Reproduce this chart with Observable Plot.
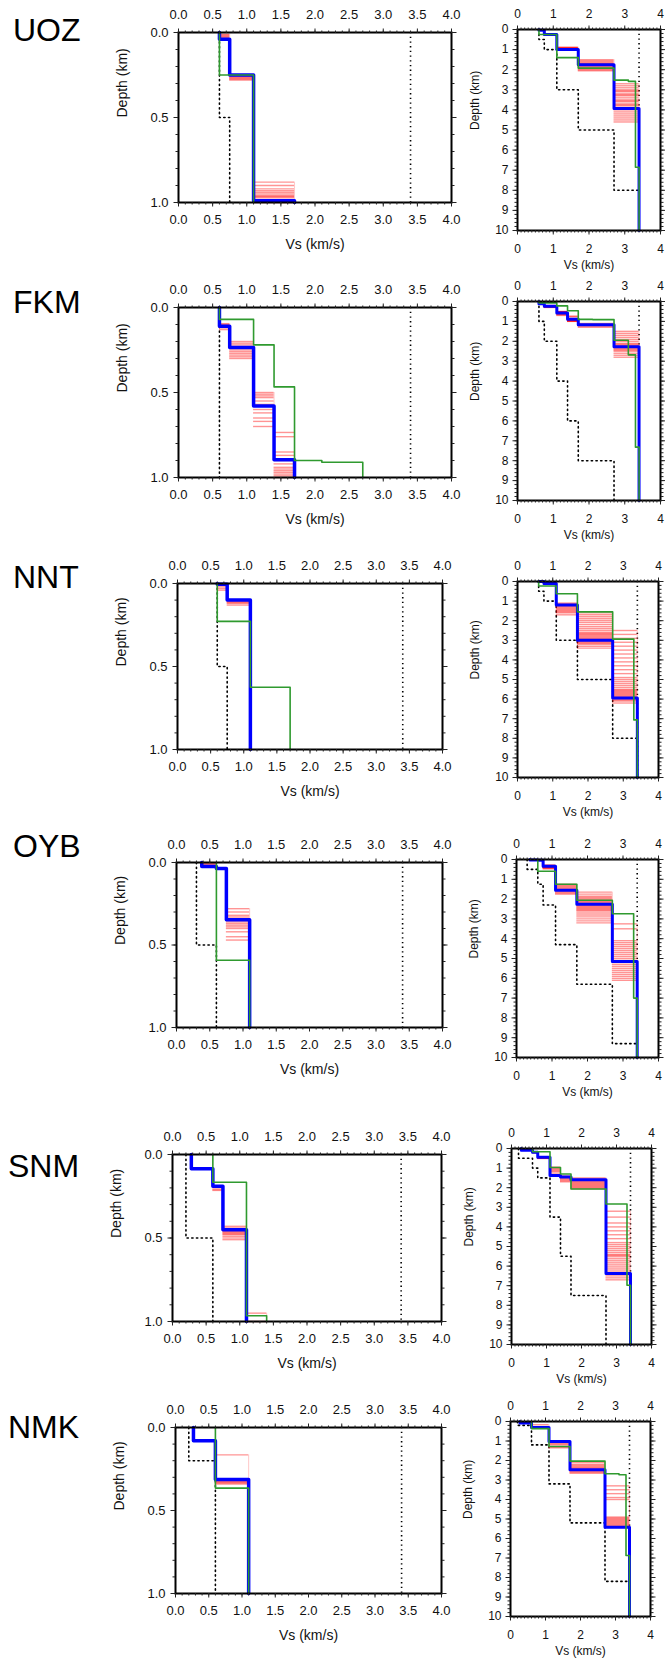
<!DOCTYPE html>
<html><head><meta charset="utf-8">
<script src="https://cdn.jsdelivr.net/npm/d3@7"></script>
<script src="https://cdn.jsdelivr.net/npm/@observablehq/plot@0.6"></script>
<style>
html,body{margin:0;padding:0;background:#fff;}
#page{position:relative;width:665px;height:1662px;overflow:hidden;font-family:"Liberation Sans",Arial,Helvetica,sans-serif;}
.title{position:absolute;font-size:32px;line-height:32px;color:#000;white-space:nowrap;}
</style></head><body><div id="page"></div>
<script>
// ---------------- DATA ----------------
const stationNames = ["UOZ","FKM","NNT","OYB","SNM","NMK"];
const upperBoundVs = 3.4;           // vertical dotted line (km/s)
const leftXTicks  = [0,0.5,1,1.5,2,2.5,3,3.5,4];
const rightXTicks = [0,1,2,3,4];
const leftYTicks  = [0,0.5,1];
const rightYTicks = [0,1,2,3,4,5,6,7,8,9,10];

// Each profile: layer velocities (km/s) and depths of layer bottoms (km)
// Red ensemble: [Vs above, Vs below, [interface depths]]
const UOZ_blueVs  = [0.6,0.75,1.1,1.7,2.7,3.4];
const UOZ_blueZ   = [0.04,0.25,0.99,1.75,3.93];
const UOZ_greenVs = [0.6,1.1,1.7,2.7,3.1,3.3,3.4];
const UOZ_greenZ  = [0.25,1.4,1.92,2.52,2.58,6.85];
const UOZ_dotVs   = [0.6,0.75,1.1,1.7,2.7,3.4];
const UOZ_dotZ    = [0.5,1.0,3.0,5.0,8.0];
const UOZ_red = [
  [0.6,0.75,[0.01,0.015,0.02,0.025,0.03]],
  [0.75,1.1,[0.25,0.255,0.26,0.265,0.27,0.275,0.28]],
  [1.1,1.7,[0.88,0.9,0.92,0.93,0.94,0.95,0.96,0.965,0.97,0.98,0.99,1.0]],
  [1.7,2.7,[1.5,1.55,1.6,1.65,1.7,1.72,1.75,1.78,1.8,1.85,1.9,1.95,2.0,2.05]],
  [2.7,3.4,[2.7,2.8,2.9,3.0,3.05,3.1,3.2,3.25,3.3,3.4,3.5,3.55,3.6,3.7,3.75,3.8,3.9,3.95,4.0,4.1,4.2,4.3,4.4,4.5,4.6]]
];

const FKM_blueVs  = [0.6,0.75,1.1,1.4,1.7,2.7,3.4];
const FKM_blueZ   = [0.11,0.235,0.58,0.895,1.17,2.27];
const FKM_greenVs = [0.6,1.1,1.4,1.7,2.1,2.7,3.1,3.3,3.4];
const FKM_greenZ  = [0.07,0.22,0.467,0.90,0.91,1.95,2.68,7.32];
const FKM_dotVs   = [0.6,0.75,1.1,1.4,1.7,2.7];
const FKM_dotZ    = [1,2,4,6,8];
const FKM_red = [
  [0.6,0.75,[0.095,0.1,0.105,0.11,0.115,0.12,0.13]],
  [0.75,1.1,[0.2,0.21,0.22,0.23,0.24,0.25,0.26,0.27,0.28,0.29,0.3]],
  [1.1,1.4,[0.5,0.51,0.52,0.53,0.55,0.57,0.6,0.62,0.65,0.67,0.7]],
  [1.4,1.7,[0.735,0.76,0.85,0.87,0.9,0.92,0.94,0.95,0.96,0.97,0.98,0.99,1.0]],
  [1.7,2.7,[1.1,1.15,1.2,1.25,1.3]],
  [2.7,3.4,[1.5,1.6,1.7,1.8,1.9,2.0,2.1,2.15,2.2,2.25,2.3,2.35,2.4,2.45,2.5,2.6,2.7,2.8]]
];

const NNT_blueVs  = [0.6,0.75,1.1,1.7,2.7,3.4];
const NNT_blueZ   = [0.005,0.10,1.2,3.0,5.95];
const NNT_greenVs = [0.6,1.1,1.7,2.7,3.3,3.4];
const NNT_greenZ  = [0.228,0.625,1.55,2.94,7.06];
const NNT_dotVs   = [0.6,0.75,1.1,1.7,2.7,3.4];
const NNT_dotZ    = [0.5,1.0,3.0,5.0,8.0];
const NNT_red = [
  [0.6,0.75,[0.005,0.01,0.02,0.03,0.04]],
  [0.75,1.1,[0.1,0.105,0.11,0.115,0.12,0.13]],
  [1.1,1.7,[1.1,1.15,1.2,1.25,1.3,1.35,1.4,1.45,1.5,1.55,1.6,1.7]],
  [1.7,2.7,[1.6,1.7,1.8,1.9,2.0,2.1,2.2,2.3,2.4,2.5,2.6,2.65,2.7,2.75,2.8,2.85,2.9,2.95,3.0,3.05,3.1,3.15,3.2,3.3,3.4]],
  [2.7,3.4,[2.5,2.7,2.9,3.1,3.3,3.5,3.7,3.9,4.1,4.3,4.5,4.7,4.9,5.0,5.1,5.2,5.3,5.4,5.5,5.55,5.6,5.65,5.7,5.75,5.8,5.85,5.9,5.95,6.0,6.05,6.1,6.2]]
];

const OYB_blueVs  = [0.38,0.6,0.75,1.1,1.7,2.7,3.4];
const OYB_blueZ   = [0.024,0.036,0.347,1.55,2.26,5.15];
const OYB_greenVs = [0.6,1.1,1.7,2.7,3.3,3.4];
const OYB_greenZ  = [0.592,1.25,2.06,2.74,7.0];
const OYB_dotVs   = [0.3,0.6,0.75,1.1,1.7,2.7,3.4];
const OYB_dotZ    = [0.5,1.25,2.3,4.3,6.3,9.3];
const OYB_red = [
  [0.38,0.6,[0.005,0.01,0.015]],
  [0.75,1.1,[0.28,0.3,0.32,0.33,0.34,0.35,0.36,0.37,0.38,0.39,0.4,0.42,0.45,0.47]],
  [1.1,1.7,[1.25,1.3,1.35,1.4,1.45,1.5,1.55,1.6,1.65,1.7,1.75]],
  [1.7,2.7,[1.65,1.75,1.85,1.9,1.95,2.0,2.05,2.1,2.15,2.2,2.3,2.35,2.4,2.45,2.5,2.55,2.6,2.7,2.8,2.9,3.0,3.1,3.2]],
  [2.7,3.4,[3.25,3.5,4.1,4.2,4.3,4.4,4.5,4.6,4.7,4.8,4.9,5.0,5.1,5.2,5.3,5.4,5.5,5.6,5.7,5.8,5.9,6.0,6.1]]
];

const SNM_blueVs  = [0.28,0.6,0.75,1.1,1.4,1.7,2.7,3.4];
const SNM_blueZ   = [0.086,0.19,0.45,1.38,1.45,1.6,6.38];
const SNM_greenVs = [0.6,1.1,1.4,1.7,2.7,3.3,3.4];
const SNM_greenZ  = [0.166,0.966,1.3,2.07,2.83,6.98];
const SNM_dotVs   = [0.2,0.6,0.75,1.1,1.4,1.7,2.7];
const SNM_dotZ    = [0.5,1.0,1.5,3.5,5.5,7.5];
const SNM_red = [
  [0.6,0.75,[0.19,0.2,0.21,0.215]],
  [0.75,1.1,[0.43,0.44,0.45,0.46,0.465,0.47,0.475,0.48,0.49,0.5,0.51]],
  [1.1,1.4,[0.95,1.0,1.05,1.1,1.15,1.2,1.3,1.4]],
  [1.4,1.7,[1.4,1.45,1.5,1.55,1.6,1.65,1.7]],
  [1.7,2.7,[1.5,1.55,1.6,1.65,1.7,1.75,1.8,1.85,1.9,1.95,2.0,2.05]],
  [2.7,3.4,[3.2,3.5,3.8,4.0,4.2,4.4,4.6,4.8,4.9,5.0,5.1,5.2,5.3,5.4,5.45,5.5,5.6,5.7,5.8,5.9,6.0,6.1,6.2,6.3,6.4,6.5,6.6,6.7]]
];

const NMK_blueVs  = [0.27,0.6,1.1,1.7,2.7,3.4];
const NMK_blueZ   = [0.08,0.313,1.03,2.48,5.42];
const NMK_greenVs = [0.6,1.1,1.7,2.7,3.1,3.3,3.4];
const NMK_greenZ  = [0.365,1.28,2.03,2.68,2.73,6.87];
const NMK_dotVs   = [0.2,0.6,1.1,1.7,2.7,3.4];
const NMK_dotZ    = [0.2,1.2,3.2,5.2,8.2];
const NMK_red = [
  [0.6,1.1,[0.165,0.32,0.325,0.33,0.335,0.34]],
  [1.1,1.7,[1.05,1.1,1.15,1.2,1.3,1.35]],
  [1.7,2.7,[2.1,2.2,2.25,2.3,2.35,2.4,2.45,2.5,2.55,2.6,2.65]],
  [2.7,3.4,[3.3,3.5,3.7,3.9,4.0,4.9,4.95,5.0,5.05,5.1,5.15,5.2,5.25,5.3,5.35,5.4]]
];

// ---------------- LAYOUT ----------------
const stations = [
  {name:"UOZ", blue:[UOZ_blueVs,UOZ_blueZ], green:[UOZ_greenVs,UOZ_greenZ], dot:[UOZ_dotVs,UOZ_dotZ], red:UOZ_red},
  {name:"FKM", blue:[FKM_blueVs,FKM_blueZ], green:[FKM_greenVs,FKM_greenZ], dot:[FKM_dotVs,FKM_dotZ], red:FKM_red},
  {name:"NNT", blue:[NNT_blueVs,NNT_blueZ], green:[NNT_greenVs,NNT_greenZ], dot:[NNT_dotVs,NNT_dotZ], red:NNT_red},
  {name:"OYB", blue:[OYB_blueVs,OYB_blueZ], green:[OYB_greenVs,OYB_greenZ], dot:[OYB_dotVs,OYB_dotZ], red:OYB_red},
  {name:"SNM", blue:[SNM_blueVs,SNM_blueZ], green:[SNM_greenVs,SNM_greenZ], dot:[SNM_dotVs,SNM_dotZ], red:SNM_red},
  {name:"NMK", blue:[NMK_blueVs,NMK_blueZ], green:[NMK_greenVs,NMK_greenZ], dot:[NMK_dotVs,NMK_dotZ], red:NMK_red},
];
// frame boxes [x0,y0,x1,y1] in page pixels
const layoutRows = [
  {L:[178,32,451,202],   R:[517,29,660,230]},
  {L:[178,307,451,477],  R:[517,301,660,500]},
  {L:[177,583,442,749],  R:[517,581,658,777]},
  {L:[176,862,442,1027], R:[516,859,658,1057]},
  {L:[172,1154,441,1321],R:[511,1148,651,1344]},
  {L:[175,1427,441,1593],R:[510,1421,650,1616]},
];
const titlePos = [[13,41],[13,313],[13,588],[13,857],[8,1177],[8,1438]];

const FONT = '"Liberation Sans", Arial, Helvetica, sans-serif';
const page = document.getElementById("page");

function stepPath(vs, zs, zmax) {
  const pts = [];
  let top = 0;
  for (let i = 0; i < vs.length; i++) {
    const bot = i < zs.length ? Math.min(zs[i], zmax) : zmax;
    pts.push({v: vs[i], z: top}, {v: vs[i], z: bot});
    if (bot >= zmax) break;
    top = bot;
  }
  return pts;
}

function panel(st, box, kind) {
  const [x0,y0,x1,y1] = box;
  const isL = kind === "L";
  const zmax = isL ? 1 : 10;
  const m = isL ? {l:75,r:14,t:32,b:62} : {l:62,r:12,t:30,b:52};
  const fs = isL ? 13 : 12;
  const lfs = isL ? 14 : 12;
  const xMajor = isL ? leftXTicks : rightXTicks;
  const yMajor = isL ? leftYTicks : rightYTicks;
  const xMinor = d3.range(0, 41).map(i => i / 10);
  const yMinor = isL ? d3.range(0, 11).map(i => i / 10) : d3.range(0, 51).map(i => i / 5);
  const fmtX = isL ? d3.format(".1f") : d3.format("d");
  const fmtY = isL ? d3.format(".1f") : d3.format("d");

  const redRows = [], redEdges = [];
  for (const [v1, v2, ds] of st.red) {
    const inside = ds.filter(d => d <= zmax + 1e-9);
    for (const d of inside) redRows.push({z: d, v1, v2});
    if (inside.length > 1) redEdges.push({v: v2, z1: d3.min(inside), z2: d3.max(inside)});
  }
  const tickStroke = "#222";
  const marks = [
    Plot.line(stepPath(st.dot[0], st.dot[1], zmax), {x:"v", y:"z", stroke:"black", strokeWidth:1.6, strokeDasharray:"1.3,3.4"}),
    Plot.ruleX([upperBoundVs], {y1:0, y2:zmax, stroke:"black", strokeWidth:1.6, strokeDasharray:"1.3,3.4"}),
    Plot.ruleY(redRows, {y:"z", x1:"v1", x2:"v2", stroke:"#ff0000", strokeOpacity:0.42, strokeWidth:1.4}),
    Plot.ruleX(redEdges, {x:"v", y1:"z1", y2:"z2", stroke:"#ff0000", strokeOpacity:0.22, strokeWidth:1}),
    Plot.line(stepPath(st.blue[0], st.blue[1], zmax), {x:"v", y:"z", stroke:"#0000ff", strokeWidth: isL ? 3.5 : 3}),
    Plot.line(stepPath(st.green[0], st.green[1], zmax), {x:"v", y:"z", stroke:"#2f9a2f", strokeWidth:1.6}),
    Plot.frame({stroke:"black", strokeWidth:2}),
    Plot.axisX(xMinor, {anchor:"top", tickSize:2.5, tickFormat:()=>"", label:null, stroke:tickStroke}),
    Plot.axisX(xMinor, {anchor:"bottom", tickSize:2.5, tickFormat:()=>"", label:null, stroke:tickStroke}),
    Plot.axisX(xMajor, {anchor:"top", tickSize:4.5, tickPadding: isL ? 9 : 7.5, tickFormat:fmtX, label:null, stroke:tickStroke, fontSize:fs}),
    Plot.axisX(xMajor, {anchor:"bottom", tickSize:4.5, tickPadding: isL ? 7.5 : 9, tickFormat:fmtX, label:null, stroke:tickStroke, fontSize:fs}),
    Plot.axisY(yMinor, {anchor:"left", tickSize:2.5, tickFormat:()=>"", label:null, stroke:tickStroke}),
    Plot.axisY(yMinor, {anchor:"right", tickSize:2.5, tickFormat:()=>"", label:null, stroke:tickStroke}),
    Plot.axisY(yMajor, {anchor:"left", tickSize:4.5, tickPadding: isL ? 5.5 : 4.5, tickFormat:fmtY, label:null, stroke:tickStroke, fontSize:fs}),
    Plot.axisY(yMajor, {anchor:"right", tickSize:4.5, tickFormat:()=>"", label:null, stroke:tickStroke}),
    Plot.text(["Vs (km/s)"], {text: d => d, frameAnchor:"bottom", dy: isL ? 46 : 38, fontSize:lfs, fill:"#111"}),
    Plot.text(["Depth (km)"], {text: d => d, frameAnchor:"left", dx: isL ? -56 : -42, rotate:-90, fontSize:lfs, fill:"#111"}),
  ];
  const svg = Plot.plot({
    width: (x1 - x0) + m.l + m.r,
    height: (y1 - y0) + m.t + m.b,
    marginLeft: m.l, marginRight: m.r, marginTop: m.t, marginBottom: m.b,
    x: {domain:[0,4], label:null},
    y: {domain:[0,zmax], reverse:true, label:null},
    style: {background:"transparent", fontFamily: FONT, fontSize: fs + "px", color:"#111", maxWidth:"none", overflow:"visible"},
    marks
  });
  svg.style.position = "absolute";
  svg.style.left = (x0 - m.l) + "px";
  svg.style.top = (y0 - m.t) + "px";
  page.appendChild(svg);
}

stations.forEach((st, i) => {
  const t = document.createElement("div");
  t.className = "title";
  t.textContent = st.name;
  t.style.left = titlePos[i][0] + "px";
  t.style.top = (titlePos[i][1] - 27) + "px";
  page.appendChild(t);
  panel(st, layoutRows[i].L, "L");
  panel(st, layoutRows[i].R, "R");
});
</script>
</body></html>
